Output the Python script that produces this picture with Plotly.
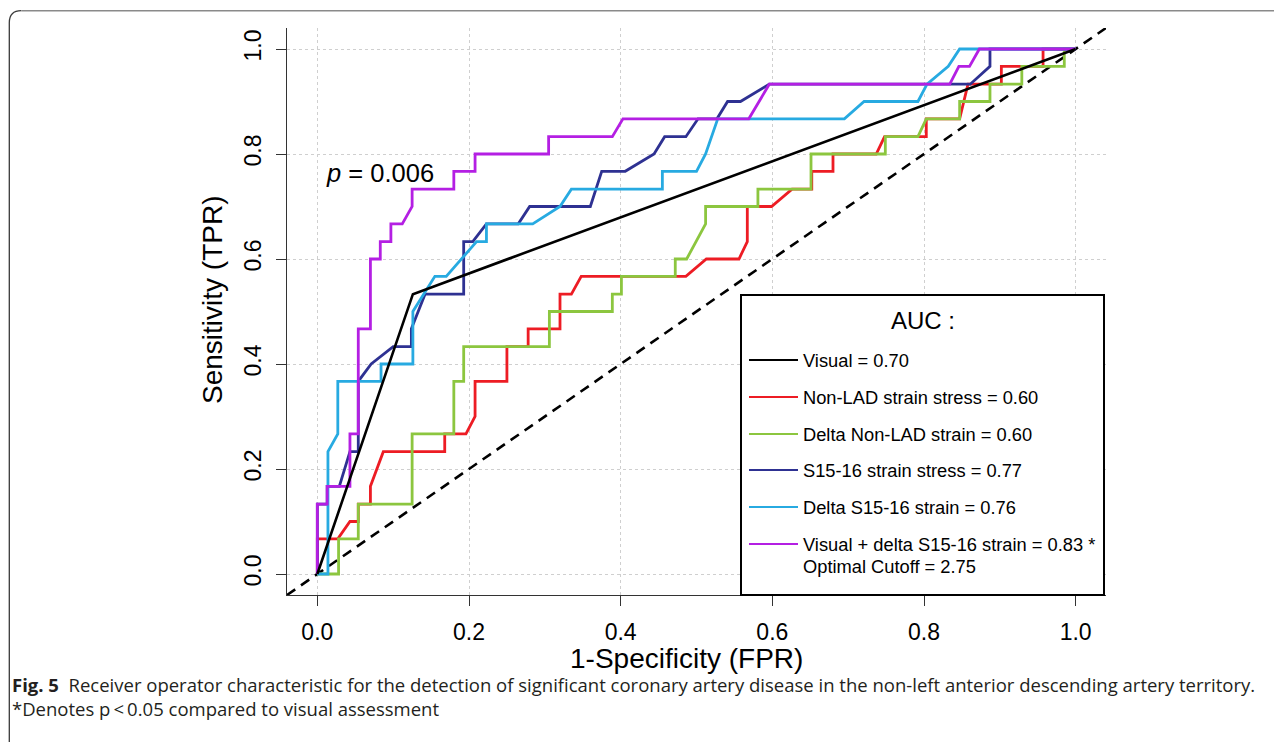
import plotly.graph_objects as go

# ---------------- data (FPR, TPR) ----------------
visual_fpr = [0, 0.126, 1.0]
visual_tpr = [0, 0.533, 1.0]

nonlad_fpr = [0, 0, 0.027, 0.043, 0.054, 0.054, 0.070, 0.070, 0.087, 0.168, 0.168, 0.196, 0.208, 0.208,
              0.250, 0.250, 0.278, 0.278, 0.320, 0.320, 0.335, 0.348, 0.486, 0.513, 0.556, 0.567, 0.567,
              0.599, 0.626, 0.652, 0.652, 0.680, 0.680, 0.737, 0.748, 0.803, 0.803, 0.847, 0.858, 0.902,
              0.902, 0.957, 0.957, 1.0]
nonlad_tpr = [0, 0.067, 0.067, 0.100, 0.100, 0.133, 0.133, 0.167, 0.233, 0.233, 0.267, 0.267, 0.300, 0.367,
              0.367, 0.433, 0.433, 0.467, 0.467, 0.533, 0.533, 0.567, 0.567, 0.600, 0.600, 0.633, 0.700,
              0.700, 0.733, 0.733, 0.767, 0.767, 0.800, 0.800, 0.833, 0.833, 0.867, 0.867, 0.933, 0.933,
              0.967, 0.967, 1.0, 1.0]

dnonlad_fpr = [0, 0.028, 0.028, 0.054, 0.054, 0.125, 0.125, 0.180, 0.180, 0.193, 0.193, 0.306, 0.306, 0.389,
               0.389, 0.401, 0.401, 0.472, 0.472, 0.487, 0.512, 0.512, 0.581, 0.581, 0.651, 0.651, 0.749,
               0.749, 0.792, 0.803, 0.847, 0.847, 0.887, 0.887, 0.929, 0.929, 0.985, 0.985, 1.0]
dnonlad_tpr = [0, 0, 0.067, 0.067, 0.133, 0.133, 0.267, 0.267, 0.367, 0.367, 0.433, 0.433, 0.500, 0.500,
               0.533, 0.533, 0.567, 0.567, 0.600, 0.600, 0.667, 0.700, 0.700, 0.733, 0.733, 0.800, 0.800,
               0.833, 0.833, 0.867, 0.867, 0.900, 0.900, 0.933, 0.933, 0.967, 0.967, 1.0, 1.0]

s1516_fpr = [0, 0, 0.013, 0.013, 0.029, 0.043, 0.054, 0.054, 0.071, 0.100, 0.124, 0.124, 0.142, 0.193, 0.193,
             0.205, 0.223, 0.265, 0.280, 0.360, 0.375, 0.406, 0.444, 0.458, 0.486, 0.502, 0.527, 0.541,
             0.558, 0.596, 0.861, 0.887, 0.887, 1.0]
s1516_tpr = [0, 0.133, 0.133, 0.167, 0.167, 0.233, 0.233, 0.367, 0.400, 0.433, 0.433, 0.467, 0.533, 0.533,
             0.633, 0.633, 0.667, 0.667, 0.700, 0.700, 0.767, 0.767, 0.800, 0.833, 0.833, 0.867, 0.867,
             0.900, 0.900, 0.933, 0.933, 0.967, 1.0, 1.0]

ds1516_fpr = [0, 0.014, 0.014, 0.027, 0.027, 0.084, 0.084, 0.126, 0.126, 0.155, 0.170, 0.210, 0.223, 0.223,
              0.284, 0.320, 0.335, 0.455, 0.455, 0.500, 0.512, 0.528, 0.695, 0.721, 0.792, 0.804, 0.832,
              0.847, 1.0]
ds1516_tpr = [0, 0, 0.233, 0.267, 0.367, 0.367, 0.400, 0.400, 0.500, 0.567, 0.567, 0.633, 0.633, 0.667,
              0.667, 0.700, 0.733, 0.733, 0.767, 0.767, 0.800, 0.867, 0.867, 0.900, 0.900, 0.933, 0.967,
              1.0, 1.0]

combo_fpr = [0, 0, 0.013, 0.013, 0.043, 0.043, 0.054, 0.054, 0.070, 0.070, 0.083, 0.083, 0.097, 0.097,
             0.112, 0.125, 0.125, 0.180, 0.180, 0.208, 0.208, 0.305, 0.305, 0.389, 0.403, 0.569, 0.596,
             0.834, 0.846, 0.860, 0.873, 1.0]
combo_tpr = [0, 0.133, 0.133, 0.167, 0.167, 0.267, 0.267, 0.467, 0.467, 0.600, 0.600, 0.633, 0.633, 0.667,
             0.667, 0.700, 0.733, 0.733, 0.767, 0.767, 0.800, 0.800, 0.833, 0.833, 0.867, 0.867, 0.933,
             0.933, 0.967, 0.967, 1.0, 1.0]

chance_line = [-0.04, 1.04]

tick_vals = [0.0, 0.2, 0.4, 0.6, 0.8, 1.0]
tick_text = ["0.0", "0.2", "0.4", "0.6", "0.8", "1.0"]

x_title = "1-Specificity (FPR)"
y_title = "Sensitivity (TPR)"
legend_title = "AUC :"
legend_names = ["Visual = 0.70", "Non-LAD strain stress = 0.60", "Delta Non-LAD strain = 0.60",
                "S15-16 strain stress = 0.77", "Delta S15-16 strain = 0.76",
                "Visual + delta S15-16 strain = 0.83 *"]
legend_extra = "Optimal Cutoff = 2.75"
p_text = "<i>p</i> = 0.006"
caption1 = ("<b>Fig. 5</b>  Receiver operator characteristic for the detection of significant coronary "
            "artery disease in the non-left anterior descending artery territory.")
caption2 = "*Denotes p\u2009<\u20090.05 compared to visual assessment"

# ---------------- styles ----------------
C_BLACK = "#000000"
C_RED = "#ED1C24"
C_GREEN = "#8CC63F"
C_NAVY = "#2E3192"
C_SKY = "#27AAE1"
C_PURPLE = "#B41FE3"
FONT = "Liberation Sans, Arial, sans-serif"
CAP_FONT = "Open Sans"

W, H = 1282, 742
OFF = 8  # page body margin: screen position = figure position + OFF
# plot area in screen pixels
SL, SR, ST, SB = 287, 1106, 28, 595
PL, PR, PT, PB = SL - OFF, SR - OFF, ST - OFF, SB - OFF


def px(x):
    """screen x pixel -> paper coordinate"""
    return (x - OFF - PL) / (PR - PL)


def py(y):
    """screen y pixel -> paper coordinate"""
    return (PB - (y - OFF)) / (PB - PT)


fig = go.Figure()
fig.add_trace(go.Scatter(x=chance_line, y=chance_line, mode="lines",
                         line=dict(color="black", width=2.6, dash="10px,7px"), showlegend=False))

series = [
    (nonlad_fpr, nonlad_tpr, C_RED),
    (dnonlad_fpr, dnonlad_tpr, C_GREEN),
    (s1516_fpr, s1516_tpr, C_NAVY),
    (ds1516_fpr, ds1516_tpr, C_SKY),
    (combo_fpr, combo_tpr, C_PURPLE),
]
for xs, ys, col in series:
    fig.add_trace(go.Scatter(x=xs, y=ys, mode="lines", line=dict(color=col, width=2.8),
                             showlegend=False))
fig.add_trace(go.Scatter(x=visual_fpr, y=visual_tpr, mode="lines",
                         line=dict(color=C_BLACK, width=2.6), showlegend=False))

axis_common = dict(range=[-0.04, 1.04], tickvals=tick_vals, ticktext=tick_text,
                   showline=True, linecolor="#333333", linewidth=1.2, mirror=False,
                   ticks="outside", ticklen=10, tickwidth=1.2, tickcolor="#333333",
                   showgrid=True, gridcolor="#cfcfcf", griddash="dot", gridwidth=1,
                   zeroline=False, tickfont=dict(family=FONT, size=23, color="black"))

fig.update_layout(
    width=W, height=H,
    margin=dict(l=PL, r=W - PR, t=PT, b=H - PB),
    paper_bgcolor="white", plot_bgcolor="white",
    xaxis=dict(**axis_common, ticklabelstandoff=6),
    yaxis=dict(**axis_common, tickangle=-90, ticklabelstandoff=6),
    showlegend=False,
)

shapes = []
annotations = []

# axis titles
annotations.append(dict(xref="paper", yref="paper", x=px(686), y=py(658), text=x_title, showarrow=False,
                        xanchor="center", yanchor="middle", font=dict(family=FONT, size=28, color="black")))
annotations.append(dict(xref="paper", yref="paper", x=px(212), y=py(300), text=y_title, showarrow=False,
                        textangle=-90, xanchor="center", yanchor="middle",
                        font=dict(family=FONT, size=28, color="black")))

# legend box
LX0, LY0, LX1, LY1 = 741, 295, 1104, 595
shapes.append(dict(type="rect", xref="paper", yref="paper", x0=px(LX0), x1=px(LX1), y0=py(LY1), y1=py(LY0),
                   line=dict(color="black", width=2), fillcolor="white", layer="above"))
annotations.append(dict(xref="paper", yref="paper", x=px(923), y=py(320), text=legend_title, showarrow=False,
                        xanchor="center", yanchor="middle", font=dict(family=FONT, size=24, color="black")))
row_y = [360, 397, 434, 470, 507, 544]
legend_cols = [C_BLACK, C_RED, C_GREEN, C_NAVY, C_SKY, C_PURPLE]
for name, col, ry in zip(legend_names, legend_cols, row_y):
    shapes.append(dict(type="line", xref="paper", yref="paper", x0=px(749), x1=px(798), y0=py(ry), y1=py(ry),
                       line=dict(color=col, width=2), layer="above"))
    annotations.append(dict(xref="paper", yref="paper", x=px(801), y=py(ry), text=name, showarrow=False,
                            xanchor="left", yanchor="middle", font=dict(family=FONT, size=18.3, color="black")))
annotations.append(dict(xref="paper", yref="paper", x=px(801), y=py(566), text=legend_extra, showarrow=False,
                        xanchor="left", yanchor="middle", font=dict(family=FONT, size=18.3, color="black")))

# p-value
annotations.append(dict(xref="paper", yref="paper", x=px(324), y=py(173), text=p_text, showarrow=False,
                        xanchor="left", yanchor="middle", font=dict(family=FONT, size=25.5, color="black")))

# caption
annotations.append(dict(xref="paper", yref="paper", x=px(10), y=py(684), text=caption1, showarrow=False,
                        xanchor="left", yanchor="middle", font=dict(family=CAP_FONT, size=18.5, color="#231f20")))
annotations.append(dict(xref="paper", yref="paper", x=px(10), y=py(709), text=caption2, showarrow=False,
                        xanchor="left", yanchor="middle", font=dict(family=CAP_FONT, size=18.5, color="#231f20")))

# figure frame (rounded top-left corner)
FX, FY, RAD = 9.3, 10.7, 12
shapes.append(dict(type="path", xref="paper", yref="paper",
                   path=(f"M {px(FX)},{py(760)} L {px(FX)},{py(FY + RAD)} "
                         f"Q {px(FX)},{py(FY)} {px(FX + RAD)},{py(FY)}"),
                   line=dict(color="#3a3a3a", width=1.3)))
shapes.append(dict(type="path", xref="paper", yref="paper",
                   path=f"M {px(FX + RAD)},{py(FY)} L {px(1300)},{py(FY)}",
                   line=dict(color="#8a8a8a", width=1.5)))

fig.update_layout(shapes=shapes, annotations=annotations)
fig.write_html("out.html")
